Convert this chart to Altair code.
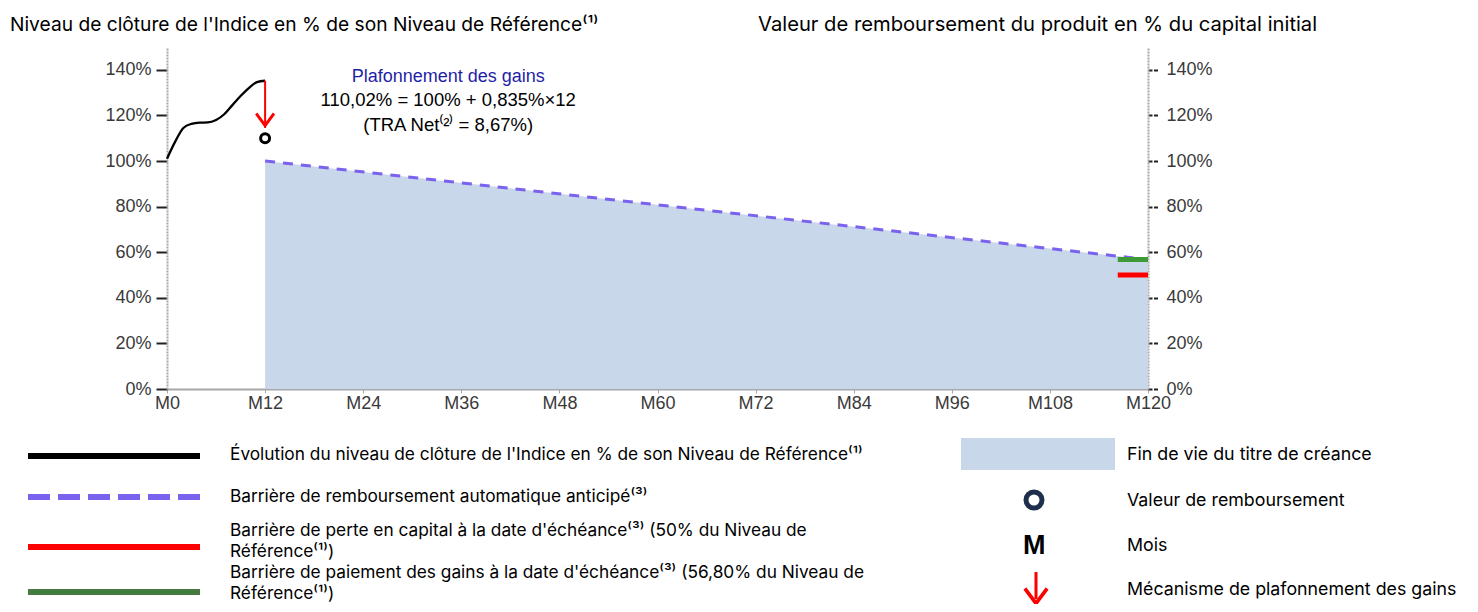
import altair as alt
import pandas as pd

# ---------------- data ----------------
index_months = list(range(13))
index_levels = [101.0, 108.5, 114.5, 116.3, 116.8, 116.9, 118.0, 120.5, 124.5, 128.5, 132.0, 134.6, 135.2]

barrier_months = [12, 120]
barrier_levels = [100.0, 56.8]

redemption_month = [12]
redemption_value = [110.02]

cap_month = [12]
cap_from = [135.2]
cap_to = [114.5]

maturity_start = [116.3]
maturity_end = [120]
gain_barrier = [56.8]
loss_barrier = [50.0]

x_ticks = [0, 12, 24, 36, 48, 60, 72, 84, 96, 108, 120]
y_ticks = [0, 20, 40, 60, 80, 100, 120, 140]

annot_lines = ["Plafonnement des gains", "110,02% = 100% + 0,835%\u00d712", "(TRA Net\u207d\u00b2\u207e = 8,67%)"]
annot_month = 34.4
annot_levels = [136.9, 126.8, 115.8]

title_left = "Niveau de cl\u00f4ture de l'Indice en % de son Niveau de R\u00e9f\u00e9rence\u207d\u00b9\u207e"
title_right = "Valeur de remboursement du produit en % du capital initial"

legend_left = [
    ["\u00c9volution du niveau de cl\u00f4ture de l'Indice en % de son Niveau de R\u00e9f\u00e9rence\u207d\u00b9\u207e"],
    ["Barri\u00e8re de remboursement automatique anticip\u00e9\u207d\u00b3\u207e"],
    ["Barri\u00e8re de perte en capital \u00e0 la date d'\u00e9ch\u00e9ance\u207d\u00b3\u207e (50% du Niveau de", "R\u00e9f\u00e9rence\u207d\u00b9\u207e)"],
    ["Barri\u00e8re de paiement des gains \u00e0 la date d'\u00e9ch\u00e9ance\u207d\u00b3\u207e (56,80% du Niveau de", "R\u00e9f\u00e9rence\u207d\u00b9\u207e)"],
]
legend_right = ["Fin de vie du titre de cr\u00e9ance", "Valeur de remboursement", "Mois", "M\u00e9canisme de plafonnement des gains"]

# ---------------- styles ----------------
W, H = 981, 342
AX_FONT = "Liberation Sans"
TXT_FONT = "Inter"
AREA_COLOR = "#c8d7ea"
DASH_COLOR = "#7b62ee"
ARROW_PATH = "M0,1 L-1,-0.35 L-0.78,-0.55 L0,0.5 L0.78,-0.55 L1,-0.35 Z"

xscale = alt.Scale(domain=[0, 120], nice=False, zero=False)
yscale = alt.Scale(domain=[0, 150], nice=False)

x_axis = alt.Axis(values=x_ticks, labelExpr="'M' + datum.value", title=None, grid=False,
                  domainColor="#a8a8a8", domainWidth=2, tickColor="#a8a8a8", tickSize=4,
                  labelFont=AX_FONT, labelFontSize=18, labelColor="#3a3a3a", labelPadding=1,
                  labelFlush=False)
y_axis_left = alt.Axis(values=y_ticks, labelExpr="datum.value + '%'", title=None, grid=False, orient="left",
                       domainColor="#a8a8a8", domainWidth=2, domainDash=[2, 1],
                       tickColor="#222222", tickWidth=2, tickSize=11,
                       labelFont=AX_FONT, labelFontSize=18, labelColor="#3a3a3a", labelPadding=5)
y_axis_right = alt.Axis(values=y_ticks, labelExpr="datum.value + '%'", title=None, grid=False, orient="right",
                        domainColor="#a8a8a8", domainWidth=2, domainDash=[2, 1],
                        tickColor="#222222", tickWidth=2, tickSize=11, tickDash=[4, 1.5],
                        labelFont=AX_FONT, labelFontSize=18, labelColor="#3a3a3a", labelPadding=7)

X = lambda f: alt.X(f, type="quantitative", scale=xscale, axis=x_axis)
Y = lambda f: alt.Y(f, type="quantitative", scale=yscale, axis=y_axis_left)

index_df = pd.DataFrame({"month": index_months, "level": index_levels})
barrier_df = pd.DataFrame({"month": barrier_months, "level": barrier_levels})
red_df = pd.DataFrame({"month": redemption_month, "level": redemption_value})
cap_df = pd.DataFrame({"month": cap_month, "from": cap_from, "to": cap_to})
annot_df = pd.DataFrame({"month": [annot_month] * 3, "level": annot_levels, "text": annot_lines,
                         "line": [0, 1, 2]})

area = alt.Chart(barrier_df).mark_area(color=AREA_COLOR, opacity=1).encode(x=X("month"), y=Y("level"))
dashed = alt.Chart(barrier_df).mark_line(color=DASH_COLOR, strokeDash=[10, 8], strokeWidth=3).encode(
    x=X("month"), y=Y("level"))
curve = alt.Chart(index_df).mark_line(color="black", strokeWidth=2.3, interpolate="monotone").encode(
    x=X("month"), y=Y("level"))
circle = alt.Chart(red_df).mark_point(shape="circle", filled=False, size=80, strokeWidth=3,
                                      color="black", opacity=1).encode(x=X("month"), y=Y("level"))
stem = alt.Chart(cap_df).mark_rule(color="#ff0000", strokeWidth=2).encode(x=X("month"), y=Y("from"), y2="to")
head = alt.Chart(cap_df).mark_point(shape=ARROW_PATH, filled=True, size=400, color="#ff0000",
                                    opacity=1, strokeWidth=0, yOffset=-10).encode(x=X("month"), y=Y("to"))
annot_blue = alt.Chart(annot_df[annot_df.line == 0]).mark_text(
    font=AX_FONT, fontSize=18, color="#1f1fa6", align="center", baseline="middle").encode(
    x=X("month"), y=Y("level"), text="text")
annot_black = alt.Chart(annot_df[annot_df.line > 0]).mark_text(
    font=AX_FONT, fontSize=18.5, color="black", align="center", baseline="middle").encode(
    x=X("month"), y=Y("level"), text="text")

left_group = alt.layer(area, dashed, curve, circle, stem, head, annot_blue, annot_black)

gain_df = pd.DataFrame({"start": maturity_start, "end": maturity_end, "level": gain_barrier})
loss_df = pd.DataFrame({"start": maturity_start, "end": maturity_end, "level": loss_barrier})
YR = lambda f: alt.Y(f, type="quantitative", scale=yscale, axis=y_axis_right)
gain_bar = alt.Chart(gain_df).mark_rule(color="#3d9a35", strokeWidth=5).encode(x=X("start"), x2="end", y=YR("level"))
loss_bar = alt.Chart(loss_df).mark_rule(color="#ff0000", strokeWidth=5).encode(x=X("start"), x2="end", y=YR("level"))
right_group = alt.layer(gain_bar, loss_bar)

# ---------------- titles & legend (layout layers) ----------------
ONE = alt.Data(values=[{}])
LEG_SIZE = 17.3


def txt(text, x, y, size=LEG_SIZE, font=TXT_FONT, color="black", weight="normal"):
    return alt.Chart(ONE).mark_text(text=text, align="left", baseline="middle", fontSize=size, font=font,
                                    color=color, fontWeight=weight).encode(x=alt.value(x), y=alt.value(y))


def swatch(color, y, dash=None):
    kw = dict(color=color, strokeWidth=6, strokeCap="butt")
    if dash:
        kw["strokeDash"] = dash
    return alt.Chart(ONE).mark_rule(**kw).encode(x=alt.value(-139), x2=alt.value(33), y=alt.value(y))


deco = [txt(title_left, -157, -22, size=19.2), txt(title_right, 591, -22, size=20.2)]

left_rows = [  # swatch y, text line ys
    (409, [408]),
    (450, [450]),
    (500, [484, 505]),
    (545, [526, 547]),
]
left_colors = ["black", DASH_COLOR, "#ff0000", "#437c3c"]
for i, (lines, (yy, tys), col) in enumerate(zip(legend_left, left_rows, left_colors)):
    deco.append(swatch(col, yy, dash=[22, 8] if i == 1 else None))
    for line, ty in zip(lines, tys):
        deco.append(txt(line, 63, ty))

deco.append(alt.Chart(ONE).mark_rect(color=AREA_COLOR).encode(
    x=alt.value(794), x2=alt.value(948), y=alt.value(391), y2=alt.value(423)))
deco.append(alt.Chart(ONE).mark_point(shape="circle", filled=False, size=256, strokeWidth=5,
                                      color="#1e2f4d", opacity=1).encode(x=alt.value(867), y=alt.value(453)))
deco.append(txt("M", 856, 499, size=27, font=AX_FONT, weight="bold"))
deco.append(alt.Chart(ONE).mark_rule(color="#ff0000", strokeWidth=3).encode(
    x=alt.value(869), y=alt.value(525), y2=alt.value(552)))
deco.append(alt.Chart(ONE).mark_point(shape=ARROW_PATH, filled=True, size=625, color="#ff0000",
                                      opacity=1, strokeWidth=0).encode(x=alt.value(869), y=alt.value(547)))
for t, yy in zip(legend_right, [408, 454, 499, 543]):
    deco.append(txt(t, 960, yy, size=17.8))

chart = alt.layer(
    alt.layer(left_group, right_group).resolve_scale(y="independent"),
    *deco,
).properties(
    width=W, height=H,
    autosize=alt.AutoSizeParams(type="none"),
    padding={"left": 159, "top": 39, "right": 322, "bottom": 215},
).configure_view(stroke=None)

chart.save("out.html", embed_options={"renderer": "svg", "actions": False})
